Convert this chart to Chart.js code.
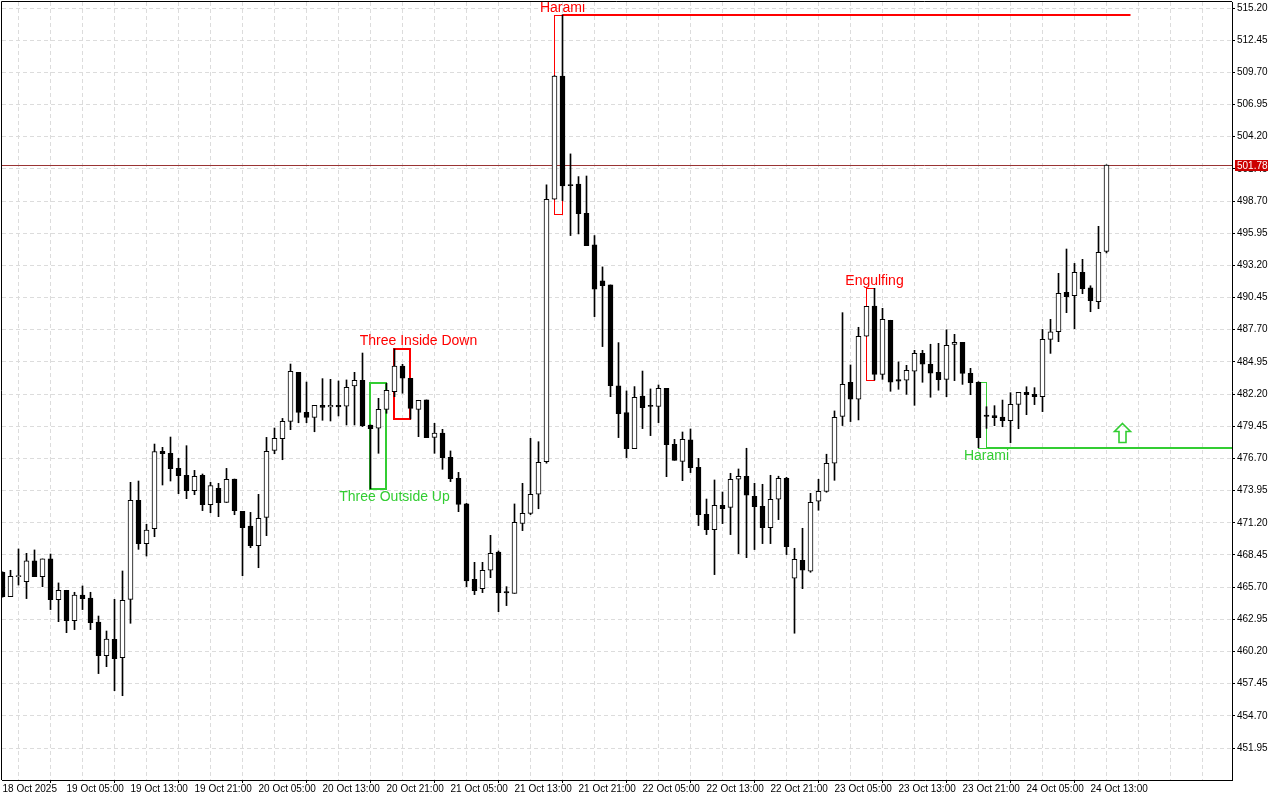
<!DOCTYPE html>
<html>
<head>
<meta charset="utf-8">
<script src="https://cdn.jsdelivr.net/npm/chart.js@4.4.0/dist/chart.umd.min.js"></script>
<style>
html, body { margin: 0; padding: 0; background: #ffffff; }
#wrap { width: 1280px; height: 800px; }
</style>
</head>
<body>
<div id="wrap"><canvas id="chart" width="1280" height="800"></canvas></div>
<script>
// Hourly candles, 18 Oct 21:00 -> 24 Oct 15:00
const opens = [
  466.97, 464.89, 466.60, 466.17, 467.94, 466.60, 468.11, 464.63, 465.43, 462.84,
  465.03, 464.77, 462.72, 459.84, 461.24, 459.67, 464.66, 473.12, 469.41, 470.70,
  477.31, 477.14, 475.85, 475.26, 473.94, 475.26, 472.75, 474.14, 472.94, 474.94,
  472.18, 470.92, 469.24, 471.66, 477.39, 478.39, 479.87, 484.06, 480.64, 480.21,
  481.24, 481.10, 481.24, 481.16, 482.89, 483.38, 479.56, 479.28, 480.90, 482.41,
  484.60, 483.55, 480.90, 481.70, 478.50, 478.87, 476.79, 475.00, 472.81, 466.37,
  465.57, 467.14, 468.70, 465.31, 465.17, 471.15, 472.01, 473.64, 476.43, 498.85,
  509.39, 500.08, 500.16, 497.65, 494.95, 491.87, 491.53, 482.90, 480.62, 477.54,
  482.04, 481.21, 481.15, 482.69, 477.91, 476.45, 478.28, 475.94, 471.92, 470.61,
  472.69, 472.52, 474.92, 475.18, 473.47, 472.61, 470.79, 473.21, 475.00, 466.46,
  467.99, 467.06, 473.04, 473.89, 476.29, 480.30, 483.21, 481.76, 487.14, 489.73,
  483.89, 488.51, 483.44, 483.38, 484.15, 485.69, 484.75, 484.06, 483.46, 486.45,
  486.62, 483.97, 483.20, 480.41, 480.36, 480.24, 479.93, 481.32, 482.35, 482.18,
  481.98, 486.88, 487.53, 490.89, 490.61, 492.60, 491.29, 490.10, 494.40
];
const highs = [
  467.00, 467.14, 468.96, 468.59, 468.88, 468.11, 468.53, 466.06, 465.43, 465.26,
  465.80, 465.26, 463.23, 461.95, 464.66, 467.08, 474.66, 474.77, 471.07, 477.93,
  477.65, 478.53, 476.71, 477.79, 475.68, 475.37, 474.66, 474.57, 475.85, 474.94,
  472.18, 472.09, 473.63, 478.50, 479.30, 480.12, 484.77, 484.06, 483.23, 481.24,
  483.52, 483.46, 483.32, 483.41, 484.06, 485.71, 479.56, 481.84, 483.12, 486.06,
  484.75, 483.55, 481.67, 481.70, 479.70, 479.19, 477.34, 475.51, 472.86, 467.82,
  467.82, 470.13, 468.79, 465.74, 472.81, 474.57, 478.42, 478.13, 500.08, 509.42,
  514.61, 502.73, 500.79, 500.84, 495.75, 493.07, 491.53, 486.60, 482.47, 482.84,
  484.17, 482.64, 482.98, 482.69, 478.33, 478.96, 479.22, 476.71, 473.23, 474.86,
  473.83, 475.43, 475.80, 477.57, 474.58, 474.49, 475.26, 475.18, 475.09, 469.02,
  470.73, 473.72, 474.92, 477.06, 480.76, 489.16, 484.69, 487.91, 489.70, 491.24,
  489.53, 488.51, 484.95, 484.66, 485.94, 485.94, 486.46, 486.54, 487.70, 487.31,
  486.62, 484.40, 483.26, 481.12, 481.21, 481.69, 482.32, 482.35, 482.83, 482.75,
  487.73, 488.59, 492.52, 494.60, 493.37, 493.72, 491.46, 496.54, 501.80
];
const lows = [
  464.85, 464.89, 465.88, 464.72, 466.60, 465.74, 463.78, 462.75, 461.81, 462.07,
  463.78, 462.07, 458.31, 458.90, 456.85, 456.42, 462.61, 468.93, 468.36, 470.01,
  474.43, 474.77, 473.69, 473.26, 473.60, 472.24, 472.06, 471.72, 472.94, 471.89,
  466.68, 469.07, 467.36, 470.10, 477.10, 476.59, 479.16, 479.75, 479.75, 478.98,
  479.96, 479.90, 480.33, 479.56, 479.56, 479.42, 474.12, 477.14, 480.56, 481.98,
  482.27, 480.07, 478.56, 478.48, 477.14, 475.77, 474.72, 472.15, 465.74, 465.06,
  465.23, 466.51, 463.60, 464.12, 465.17, 470.53, 471.90, 472.40, 476.29, 498.85,
  498.74, 495.75, 495.89, 494.89, 488.82, 486.26, 481.98, 478.48, 476.77, 477.54,
  479.25, 478.65, 479.76, 475.14, 476.54, 474.80, 475.49, 470.96, 470.19, 466.77,
  471.13, 470.19, 468.56, 468.22, 468.91, 469.42, 469.42, 471.47, 468.48, 461.76,
  465.57, 466.97, 472.27, 473.81, 474.83, 479.51, 479.85, 479.99, 487.14, 483.41,
  483.46, 482.44, 482.61, 482.18, 481.24, 483.21, 481.93, 482.53, 481.98, 483.35,
  483.03, 482.15, 477.62, 479.27, 479.50, 479.41, 478.05, 479.24, 480.44, 481.30,
  480.70, 485.68, 486.68, 489.16, 487.79, 490.78, 489.24, 489.50, 494.26
];
const closes = [
  464.89, 466.62, 466.64, 467.94, 466.60, 468.11, 464.63, 465.43, 462.84, 465.03,
  464.72, 462.66, 459.84, 461.27, 459.59, 464.57, 473.12, 469.41, 470.58, 477.28,
  477.11, 475.83, 475.23, 473.94, 475.17, 472.75, 474.37, 472.92, 474.91, 472.23,
  470.78, 469.24, 471.58, 477.30, 478.41, 479.87, 484.14, 480.64, 480.21, 481.24,
  481.07, 481.24, 481.10, 482.78, 483.38, 479.50, 479.25, 480.90, 482.52, 484.60,
  483.55, 480.98, 481.67, 478.48, 478.87, 476.77, 474.97, 472.78, 466.23, 465.40,
  467.14, 468.59, 465.23, 465.20, 471.24, 472.01, 473.64, 476.37, 498.85, 509.39,
  499.99, 500.02, 497.63, 494.89, 491.16, 491.47, 482.92, 480.53, 477.54, 481.92,
  481.04, 481.15, 482.69, 477.88, 476.54, 478.33, 475.91, 471.89, 470.61, 472.69,
  472.41, 474.92, 475.17, 473.55, 472.58, 470.79, 473.21, 475.00, 469.16, 468.08,
  467.14, 472.95, 473.89, 476.29, 480.22, 483.04, 481.76, 487.14, 489.70, 483.89,
  488.59, 483.21, 483.30, 484.23, 485.69, 484.75, 483.98, 483.44, 486.37, 486.62,
  483.97, 483.18, 478.47, 480.30, 480.18, 479.93, 481.32, 482.35, 482.15, 481.98,
  486.88, 487.53, 490.81, 490.52, 492.60, 491.21, 490.18, 494.31, 501.78
];

// time axis labels (bar index -> text)
const timeTickIndex = [0, 8, 16, 24, 32, 40, 48, 56, 64, 72, 80, 88, 96, 104, 112, 120, 128, 136];
const timeTickText = ['18 Oct 2025', '19 Oct 05:00', '19 Oct 13:00', '19 Oct 21:00', '20 Oct 05:00',
  '20 Oct 13:00', '20 Oct 21:00', '21 Oct 05:00', '21 Oct 13:00', '21 Oct 21:00', '22 Oct 05:00',
  '22 Oct 13:00', '22 Oct 21:00', '23 Oct 05:00', '23 Oct 13:00', '23 Oct 21:00', '24 Oct 05:00',
  '24 Oct 13:00'];

// price axis ticks
const priceTicks = [451.95, 454.70, 457.45, 460.20, 462.95, 465.70, 468.45, 471.20, 473.95, 476.70,
  479.45, 482.20, 484.95, 487.70, 490.45, 493.20, 495.95, 498.70, 501.45, 504.20, 506.95, 509.70,
  512.45, 515.20];

// candle patterns found by the indicator
const patternNames = ['Harami', 'Three Inside Down', 'Three Outside Up', 'Engulfing', 'Harami'];
const patternFirst = [69, 49, 46, 108, 122];
const patternLast = [70, 51, 48, 109, 123];
const patternTop = [514.61, 486.05, 483.12, 491.24, 483.26];
const patternBottom = [497.57, 480.07, 474.12, 483.41, 477.62];
const patternBearish = [true, true, false, true, false];
const patternLabelIndex = [70, 52, 49, 109, 123];
const patternLabelPrice = [515.15, 486.74, 473.41, 491.87, 476.91];

// levels drawn from the harami patterns
const levelPrice = [514.61, 477.62];
const levelFrom = [70, 123];
const levelTo = [141, 153.7];

const arrowIndex = 140;
const arrowTip = 479.70;
const arrowBase = 478.13;

const currentPrice = 501.78;

const RED = '#ff0000';
const GREEN = '#32cd32';

const bodyData = opens.map((o, i) => ({x: i, y: [o, closes[i]]}));
const wickData = highs.map((h, i) => ({x: i, y: [lows[i], h]}));
const bodyColors = opens.map((o, i) => closes[i] >= o ? '#ffffff' : '#000000');

const overlay = {
  id: 'overlay',
  beforeDatasetsDraw(chart) {
    const {ctx, chartArea} = chart;
    const x = chart.scales.x, y = chart.scales.y;
    ctx.save();

    // current price line
    const cy = Math.round(y.getPixelForValue(currentPrice)) + 0.5;
    ctx.strokeStyle = '#993333';
    ctx.lineWidth = 1;
    ctx.beginPath();
    ctx.moveTo(chartArea.left, cy);
    ctx.lineTo(chartArea.right, cy);
    ctx.stroke();

    // pattern boxes
    for (let i = 0; i < patternNames.length; i++) {
      const w = patternLast[i] - patternFirst[i] > 1 ? 2 : 1;
      const off = w === 1 ? 0.5 : 0;
      const x1 = Math.floor(x.getPixelForValue(patternFirst[i])) + off;
      const x2 = Math.floor(x.getPixelForValue(patternLast[i])) + off;
      const y1 = Math.round(y.getPixelForValue(patternTop[i])) + off;
      const y2 = Math.round(y.getPixelForValue(patternBottom[i])) + off;
      ctx.strokeStyle = patternBearish[i] ? RED : GREEN;
      ctx.lineWidth = w;
      ctx.strokeRect(x1, y1, x2 - x1, y2 - y1);
    }

    // levels
    for (let i = 0; i < levelPrice.length; i++) {
      const ly = Math.round(y.getPixelForValue(levelPrice[i]));
      ctx.strokeStyle = i === 0 ? RED : GREEN;
      ctx.lineWidth = 2;
      ctx.beginPath();
      ctx.moveTo(x.getPixelForValue(levelFrom[i]), ly);
      ctx.lineTo(Math.min(x.getPixelForValue(levelTo[i]), chartArea.right), ly);
      ctx.stroke();
    }
    ctx.restore();
  },
  afterDatasetsDraw(chart) {
    const {ctx} = chart;
    const x = chart.scales.x, y = chart.scales.y;
    ctx.save();
    ctx.font = '14px "Liberation Sans", Arial, sans-serif';
    ctx.textAlign = 'center';
    ctx.textBaseline = 'middle';
    for (let i = 0; i < patternNames.length; i++) {
      ctx.fillStyle = patternBearish[i] ? RED : GREEN;
      ctx.fillText(patternNames[i], x.getPixelForValue(patternLabelIndex[i]), y.getPixelForValue(patternLabelPrice[i]));
    }

    // buy arrow (hollow)
    const ax = Math.floor(x.getPixelForValue(arrowIndex)) + 0.5;
    const at = Math.round(y.getPixelForValue(arrowTip)) + 0.5;
    const ab = Math.round(y.getPixelForValue(arrowBase)) + 0.5;
    const neck = at + 8;
    ctx.strokeStyle = GREEN;
    ctx.lineWidth = 1.6;
    ctx.lineJoin = 'miter';
    ctx.beginPath();
    ctx.moveTo(ax, at);
    ctx.lineTo(ax + 8, neck);
    ctx.lineTo(ax + 3.5, neck);
    ctx.lineTo(ax + 3.5, ab);
    ctx.lineTo(ax - 3.5, ab);
    ctx.lineTo(ax - 3.5, neck);
    ctx.lineTo(ax - 8, neck);
    ctx.closePath();
    ctx.stroke();
    ctx.restore();
  },
  afterDraw(chart) {
    const {ctx, chartArea} = chart;
    const y = chart.scales.y;
    ctx.save();
    // frame top / left
    ctx.strokeStyle = '#000000';
    ctx.lineWidth = 1;
    ctx.beginPath();
    ctx.moveTo(chartArea.left - 0.5, chartArea.bottom);
    ctx.lineTo(chartArea.left - 0.5, chartArea.top - 0.5);
    ctx.lineTo(chartArea.right, chartArea.top - 0.5);
    ctx.stroke();

    // current price tag
    const cy = Math.round(y.getPixelForValue(currentPrice));
    ctx.fillStyle = '#cc0000';
    ctx.fillRect(chartArea.right + 3, cy - 5, 33, 11);
    ctx.fillStyle = '#ffffff';
    ctx.font = '10px "Liberation Sans", Arial, sans-serif';
    ctx.textAlign = 'left';
    ctx.textBaseline = 'middle';
    ctx.fillText(currentPrice.toFixed(2), chartArea.right + 5, cy + 1);
    ctx.restore();
  }
};

new Chart(document.getElementById('chart'), {
  type: 'bar',
  data: {
    datasets: [
      {
        label: 'body',
        data: bodyData,
        backgroundColor: bodyColors,
        borderColor: '#000000',
        borderWidth: 1,
        borderSkipped: false,
        barThickness: 5,
        minBarLength: 1,
        grouped: false,
        order: 0
      },
      {
        label: 'wick',
        data: wickData,
        backgroundColor: '#000000',
        borderWidth: 0,
        barThickness: 1,
        grouped: false,
        order: 1
      }
    ]
  },
  options: {
    responsive: false,
    animation: false,
    layout: { padding: { left: 2, top: 2, right: 0, bottom: 0 } },
    plugins: {
      legend: { display: false },
      tooltip: { enabled: false }
    },
    scales: {
      x: {
        type: 'linear',
        offset: false,
        min: -0.0625,
        max: 153.6875,
        afterBuildTicks: (scale) => {
          const t = [];
          for (let k = 0; k <= 152; k += 4) t.push({value: k});
          scale.ticks = t;
        },
        afterFit: (scale) => {
          scale.height = 20;
          scale.paddingLeft = 0;
          scale.paddingRight = 0;
        },
        grid: {
          color: '#dcdcdc',
          tickLength: 3,
          tickColor: (c) => (c.tick && timeTickIndex.includes(c.tick.value)) ? '#000000' : 'rgba(0,0,0,0)'
        },
        border: { display: true, color: '#000000', dash: [4, 3] },
        ticks: {
          autoSkip: false,
          maxRotation: 0,
          align: 'start',
          padding: 0,
          color: '#000000',
          font: { family: '"Liberation Sans", Arial, sans-serif', size: 10 },
          callback: (v) => {
            const k = timeTickIndex.indexOf(v);
            return k >= 0 ? timeTickText[k] : '';
          }
        }
      },
      y: {
        position: 'right',
        min: 449.215,
        max: 515.713,
        afterBuildTicks: (scale) => {
          scale.ticks = priceTicks.map(v => ({value: v}));
        },
        afterFit: (scale) => {
          scale.width = 48;
          scale.paddingTop = 0;
          scale.paddingBottom = 0;
        },
        grid: { color: '#dcdcdc', tickLength: 3, tickColor: '#000000' },
        border: { display: true, color: '#000000', dash: [4, 3] },
        ticks: {
          padding: 2,
          color: '#000000',
          font: { family: '"Liberation Sans", Arial, sans-serif', size: 10 },
          callback: (v) => Number(v).toFixed(2)
        }
      }
    }
  },
  plugins: [overlay]
});
</script>
</body>
</html>
